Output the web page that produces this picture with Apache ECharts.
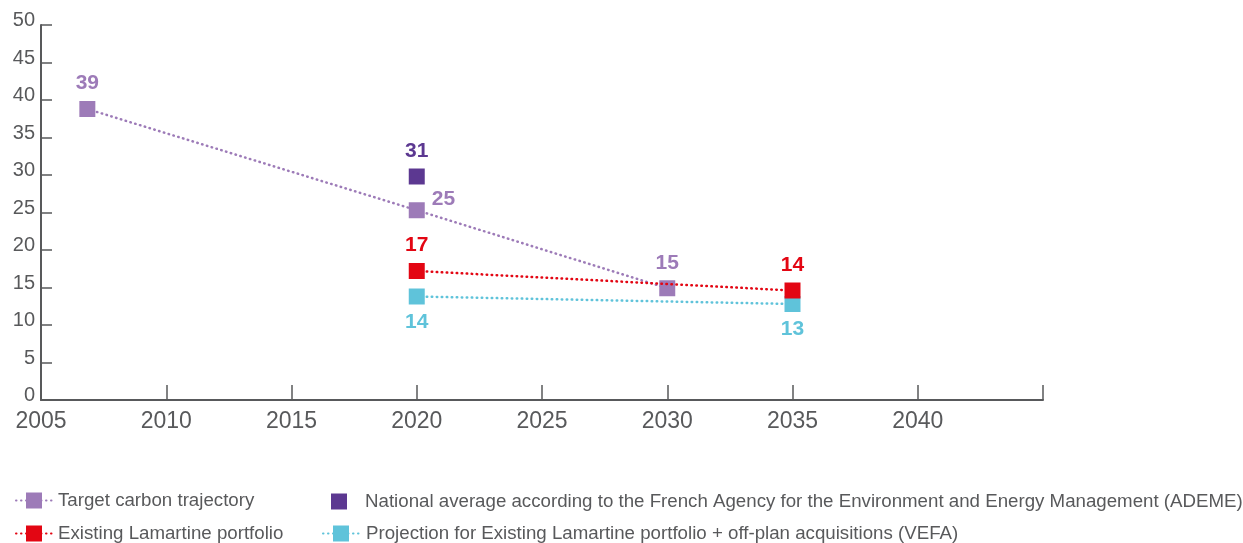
<!DOCTYPE html>
<html>
<head>
<meta charset="utf-8">
<script src="https://cdn.jsdelivr.net/npm/echarts@6/dist/echarts.min.js"></script>
<style>
html,body{margin:0;padding:0;background:#fff;}
#chart{width:1243px;height:543px;}
</style>
</head>
<body>
<div id="chart"></div>
<script>
// ---- data ----
var seriesNames = [
  'Target carbon trajectory',
  'National average according to the French Agency for the Environment and Energy Management (ADEME)',
  'Existing Lamartine portfolio',
  'Projection for Existing Lamartine portfolio + off-plan acquisitions (VEFA)'
];
var targetYears = [2006.85, 2020, 2030];
var targetValues = [38.8, 25.3, 14.9];
var targetLabels = ['39', '25', '15'];

var nationalYears = [2020];
var nationalValues = [29.8];
var nationalLabels = ['31'];

var existingYears = [2020, 2035];
var existingValues = [17.2, 14.6];
var existingLabels = ['17', '14'];

var projectionYears = [2020, 2035];
var projectionValues = [13.8, 12.8];
var projectionLabels = ['14', '13'];

var xTickLabels = ['2005', '2010', '2015', '2020', '2025', '2030', '2035', '2040'];
var yTickLabels = ['0','5','10','15','20','25','30','35','40','45','50'];

// ---- styles ----
var colors = ['#9d7bb8', '#5c3891', '#e30613', '#5fc3da'];
var FONT = '"Liberation Sans", Arial, sans-serif';
var AXIS_COLOR = '#58595b';
var DOTS = [0.5, 4.5];

function buildData(years, values, labels, labelCfgs) {
  return years.map(function (y, i) {
    var item = { value: [y, values[i]], labelText: labels[i] };
    if (labelCfgs && labelCfgs[i]) item.label = labelCfgs[i];
    return item;
  });
}

function valueLabel(color, pos) {
  return {
    show: true,
    position: pos,
    distance: 7,
    color: color,
    fontFamily: FONT,
    fontWeight: 'bold',
    fontSize: 21,
    formatter: function (p) { return p.data.labelText; }
  };
}

function lineSeries(name, years, values, labels, color, defaultPos, labelCfgs, z) {
  return {
    name: name,
    type: 'line',
    z: z,
    data: buildData(years, values, labels, labelCfgs),
    symbol: 'rect',
    symbolSize: 16,
    itemStyle: { color: color, opacity: 1 },
    lineStyle: { color: color, width: 2.5, type: DOTS, cap: 'round' },
    label: valueLabel(color, defaultPos),
    emphasis: { disabled: true },
    animation: false
  };
}

function legendAt(name, left, top, iconW, iconH, textPadLeft) {
  return {
    orient: 'horizontal',
    left: left,
    top: top,
    itemWidth: iconW,
    itemHeight: iconH,
    itemGap: 0,
    padding: 0,
    textStyle: { color: AXIS_COLOR, fontFamily: FONT, fontSize: 18.7, padding: [0, 0, 0, textPadLeft] },
    data: [name],
    selectedMode: false
  };
}

var chart = echarts.init(document.getElementById('chart'), null, { renderer: 'canvas' });

var option = {
  animation: false,
  grid: { left: 41, right: 200, top: 25, bottom: 143, containLabel: false },
  xAxis: {
    type: 'value',
    min: 2005,
    max: 2045,
    interval: 5,
    axisLine: { show: true, lineStyle: { color: AXIS_COLOR, width: 2 } },
    axisTick: { show: true, inside: true, length: 15, lineStyle: { color: AXIS_COLOR, width: 1.5 } },
    splitLine: { show: false },
    axisLabel: {
      color: AXIS_COLOR,
      fontFamily: FONT,
      fontSize: 23,
      margin: 10,
      showMaxLabel: true,
      formatter: function (v) {
        var idx = xTickLabels.indexOf(String(v));
        return idx >= 0 ? xTickLabels[idx] : '';
      }
    }
  },
  yAxis: {
    type: 'value',
    min: 0,
    max: 50,
    interval: 5,
    axisLine: { show: true, lineStyle: { color: AXIS_COLOR, width: 2 } },
    axisTick: { show: true, inside: true, length: 11, lineStyle: { color: AXIS_COLOR, width: 1.5 } },
    splitLine: { show: false },
    axisLabel: {
      color: AXIS_COLOR,
      fontFamily: FONT,
      fontSize: 20,
      margin: 6,
      verticalAlign: 'bottom',
      lineHeight: 9,
      formatter: function (v) {
        var idx = yTickLabels.indexOf(String(v));
        return idx >= 0 ? yTickLabels[idx] : '';
      }
    }
  },
  legend: [
    legendAt(seriesNames[0], 15, 491, 36, 20, 1),
    legendAt(seriesNames[2], 15, 524, 36, 20, 1),
    legendAt(seriesNames[1], 331, 492, 16, 16, 13),
    legendAt(seriesNames[3], 322, 524, 36, 20, 2)
  ],
  series: [
    lineSeries(seriesNames[0], targetYears, targetValues, targetLabels, colors[0], 'top',
      [null, { position: 'right', distance: 7, offset: [0, -11] }, null], 3),
    {
      name: seriesNames[1],
      type: 'scatter',
      z: 4,
      data: buildData(nationalYears, nationalValues, nationalLabels),
      symbol: 'rect',
      symbolSize: 16,
      itemStyle: { color: colors[1], opacity: 1 },
      label: valueLabel(colors[1], 'top'),
      emphasis: { disabled: true },
      animation: false
    },
    lineSeries(seriesNames[2], existingYears, existingValues, existingLabels, colors[2], 'top', null, 5),
    lineSeries(seriesNames[3], projectionYears, projectionValues, projectionLabels, colors[3], 'bottom', null, 4)
  ]
};
chart.setOption(option);
</script>
</body>
</html>
